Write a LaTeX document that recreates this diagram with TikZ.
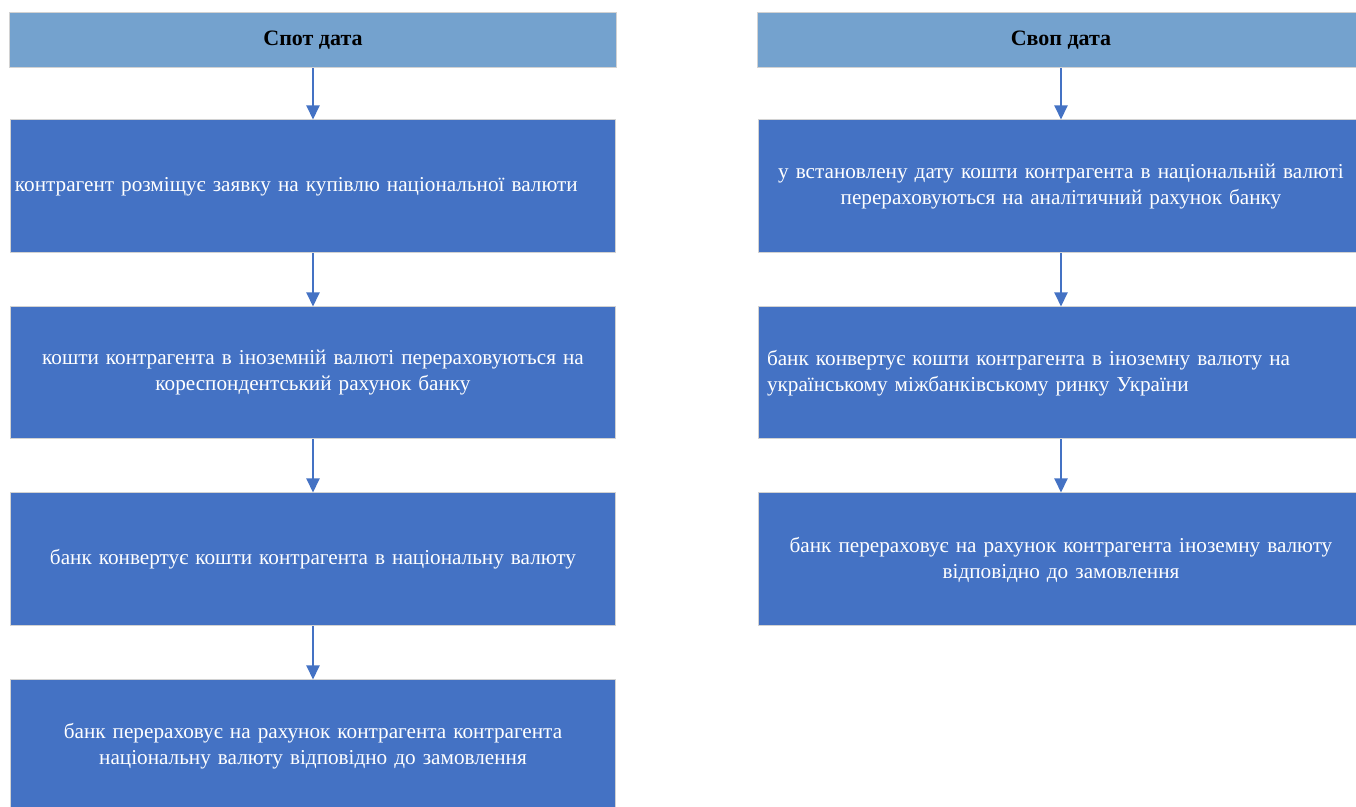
\documentclass[tikz,border=0pt]{standalone}
\usepackage{fontspec}
\setmainfont{Liberation Serif}
\usepackage{xcolor}
\usetikzlibrary{arrows.meta,positioning}

\definecolor{headblue}{RGB}{116,162,206}
\definecolor{stepblue}{RGB}{68,114,196}

\begin{document}
\begin{tikzpicture}[x=0.5pt, y=-0.5pt,
			mach/.style={draw=gray!35, line width=0.5pt, minimum width=302.5pt,
				align=center, inner sep=4pt,
				font=\fontsize{10.6}{13}\selectfont},
			headnd/.style={mach, fill=headblue, minimum width=303.5pt,
				minimum height=27.5pt, text=black, font=\fontsize{11}{13}\selectfont\bfseries},
			stepnd/.style={mach, fill=stepblue, minimum height=66.5pt,
				text=white, text width=294pt},
			flow/.style={draw=stepblue, line width=1pt,
				-{Triangle[width=6.5pt,length=7pt]}},
			]
			
			\clip (0,0) rectangle (1356,807);
			\fill[white] (0,0) rectangle (1356,807);
			
			%% ── Spot date column ─────────────────────────────────────────────────────────
			\node[headnd] (spot) at (313, 40.5)
			{Спот дата};
			
			\node[stepnd, align=left, inner xsep=2pt, text width=298pt] (order) at (313, 186.5)
			{контрагент розміщує заявку на купівлю національної валюти};
			
			\node[stepnd, minimum height=66pt] (transfer) at (313, 373)
			{кошти контрагента в іноземній валюті перераховуються на\\
				кореспондентський рахунок банку};
			
			\node[stepnd] (convert) at (313, 559.5)
			{банк конвертує кошти контрагента в національну валюту};
			
			\node[stepnd] (payout) at (313, 746.5)
			{банк перераховує на рахунок контрагента контрагента\\
				національну валюту відповідно до замовлення};
			
			%% ── Swap date column ─────────────────────────────────────────────────────────
			\node[headnd] (swap) at (1061, 40.5)
			{Своп дата};
			
			\node[stepnd] (swapin) at (1061, 186.5)
			{у встановлену дату кошти контрагента в національній валюті\\
				перераховуються на аналітичний рахунок банку};
			
			\node[stepnd, align=left, minimum height=66pt] (swapconv) at (1061, 373)
			{банк конвертує кошти контрагента в іноземну валюту на\\
				українському міжбанківському ринку України};
			
			\node[stepnd] (swapout) at (1061, 559.5)
			{банк перераховує на рахунок контрагента іноземну валюту\\
				відповідно до замовлення};
			
			%% ── Flow arrows ──────────────────────────────────────────────────────────────
			\draw[flow] (spot)     -- (order);
			\draw[flow] (order)    -- (transfer);
			\draw[flow] (transfer) -- (convert);
			\draw[flow] (convert)  -- (payout);
			
			\draw[flow] (swap)     -- (swapin);
			\draw[flow] (swapin)   -- (swapconv);
			\draw[flow] (swapconv) -- (swapout);
			
		\end{tikzpicture}
\end{document}
